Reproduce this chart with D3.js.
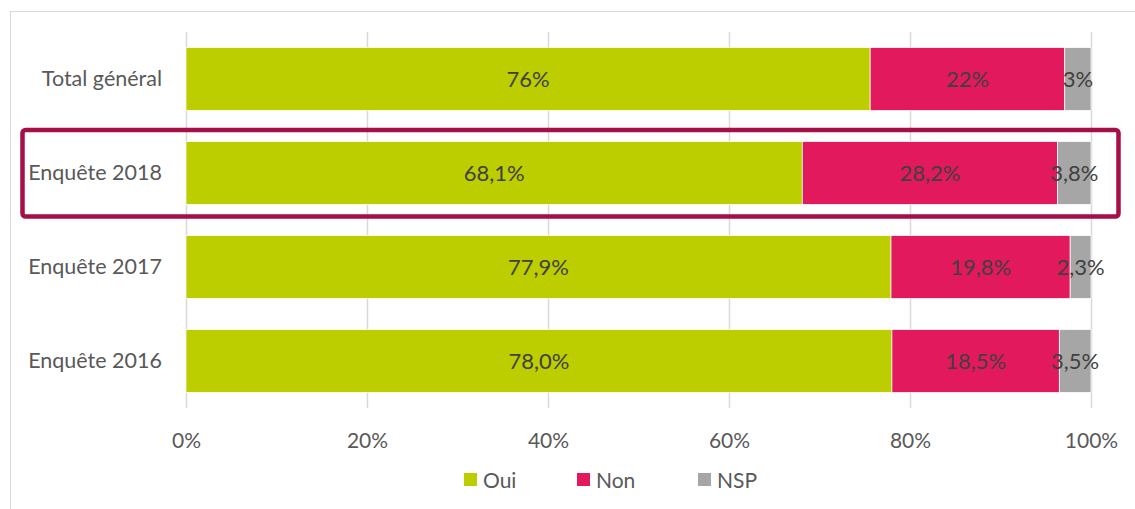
<!DOCTYPE html>
<html>
<head>
<meta charset="utf-8">
<script src="https://cdn.jsdelivr.net/npm/d3@7"></script>
<style>
  html, body { margin: 0; padding: 0; background: #fff; }
  svg { display: block; }
  text { font-family: "Lato", "Open Sans", sans-serif; }
</style>
</head>
<body>
<svg id="chart" width="1135" height="509"></svg>
<script>
// ---- data ----
const categories = ["Total général", "Enquête 2018", "Enquête 2017", "Enquête 2016"];
const seriesNames = ["Oui", "Non", "NSP"];
const ouiValues = [75.6, 68.1, 77.9, 78.0];
const nonValues = [21.5, 28.2, 19.8, 18.5];
const nspValues = [2.9, 3.8, 2.3, 3.5];
const ouiLabels = ["76%", "68,1%", "77,9%", "78,0%"];
const nonLabels = ["22%", "28,2%", "19,8%", "18,5%"];
const nspLabels = ["3%", "3,8%", "2,3%", "3,5%"];
const tickValues = [0, 20, 40, 60, 80, 100];
const tickLabels = ["0%", "20%", "40%", "60%", "80%", "100%"];
const highlighted = "Enquête 2018";

const colors = ["#BCCD00", "#E3195D", "#A6A6A6"];

// ---- build table ----
const valueSets = [ouiValues, nonValues, nspValues];
const labelSets = [ouiLabels, nonLabels, nspLabels];
const rows = categories.map((c, i) => {
  const r = { cat: c };
  seriesNames.forEach((s, j) => { r[s] = valueSets[j][i]; r[s + "_label"] = labelSets[j][i]; });
  return r;
});
const stacked = d3.stack().keys(seriesNames)(rows);

const svg = d3.select("#chart");
const W = 1135, H = 509;

// chart outer border
svg.append("rect")
  .attr("x", 10.5).attr("y", 11.5)
  .attr("width", W + 20).attr("height", H + 20)
  .attr("fill", "none").attr("stroke", "#D9D9D9").attr("stroke-width", 1);

const plot = { left: 186, right: 1091, top: 32, bottom: 408 };

const x = d3.scaleLinear().domain([0, 100]).range([plot.left, plot.right]);
const y = d3.scaleBand().domain(categories).range([plot.top, plot.bottom])
  .paddingInner(0.33).paddingOuter(0.165);

// gridlines
svg.append("g").selectAll("line").data(tickValues).join("line")
  .attr("x1", d => Math.round(x(d)) + 0.5).attr("x2", d => Math.round(x(d)) + 0.5)
  .attr("y1", plot.top).attr("y2", plot.bottom)
  .attr("stroke", "#D9D9D9").attr("stroke-width", 1.5);

// x axis labels via d3 axis
const xAxis = d3.axisBottom(x).tickValues(tickValues)
  .tickFormat((d, i) => tickLabels[i]).tickSize(0).tickPadding(0);
const gx = svg.append("g").attr("transform", `translate(0, ${plot.bottom})`).call(xAxis);
gx.select(".domain").remove();
gx.selectAll("text")
  .attr("y", 40).attr("dy", null)
  .style("font-family", "Lato, 'Open Sans', sans-serif")
  .style("font-size", "21px").attr("fill", "#595959");

// bars
const layers = svg.append("g").selectAll("g").data(stacked).join("g")
  .attr("fill", (d, i) => colors[i]);
layers.selectAll("rect").data(d => d).join("rect")
  .attr("x", d => x(d[0]))
  .attr("y", d => y(d.data.cat))
  .attr("width", d => Math.max(0, Math.min(x(100), x(d[1])) - x(d[0])))
  .attr("height", y.bandwidth())
  .attr("stroke", "#fff").attr("stroke-width", 0.75);

// data labels
stacked.forEach((layer, j) => {
  svg.append("g").selectAll("text").data(layer).join("text")
    .attr("x", d => (x(d[0]) + Math.min(x(100), x(d[1]))) / 2)
    .attr("y", d => y(d.data.cat) + y.bandwidth() / 2)
    .attr("dy", "0.36em")
    .attr("text-anchor", "middle")
    .attr("font-size", "22px")
    .attr("fill", "#404040")
    .text(d => d.data[seriesNames[j] + "_label"]);
});

// category labels
const yAxis = d3.axisLeft(y).tickSize(0).tickPadding(24);
const gy = svg.append("g").attr("transform", `translate(${plot.left}, 0)`).call(yAxis);
gy.select(".domain").remove();
gy.selectAll("text")
  .style("font-family", "Lato, 'Open Sans', sans-serif")
  .style("font-size", "21.5px").attr("fill", "#595959");

// highlight box around 2018
const hy = y(highlighted);
svg.append("rect")
  .attr("x", 22.5).attr("y", hy - 11.5)
  .attr("width", 1096).attr("height", y.bandwidth() + 23.5)
  .attr("rx", 3).attr("ry", 3)
  .attr("fill", "none").attr("stroke", "#A50E46").attr("stroke-width", 4.5);

// legend
const legendX = [464, 577, 698];
const lg = svg.append("g").selectAll("g").data(seriesNames).join("g")
  .attr("transform", (d, i) => `translate(${legendX[i]}, 473)`);
lg.append("rect").attr("width", 13).attr("height", 13).attr("fill", (d, i) => colors[i]);
lg.append("text").attr("x", 19).attr("y", 7).attr("dy", "0.36em")
  .attr("font-size", "21px").attr("fill", "#595959").text(d => d);
</script>
</body>
</html>
